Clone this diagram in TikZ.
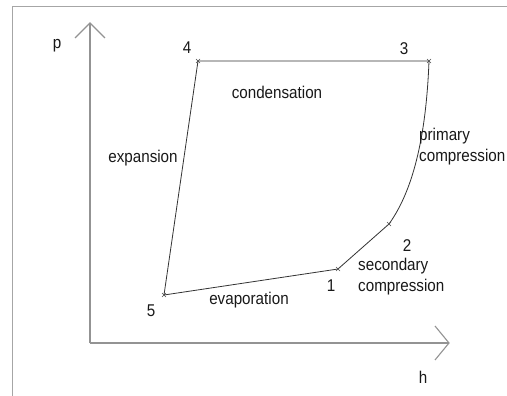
\documentclass[tikz,border=0pt]{standalone}
\usepackage{graphicx}
\usepackage{fontspec}
\setmainfont{Liberation Sans}
\newcommand\stretchtxt[1]{\scalebox{1}[1.12]{#1}}
\begin{document}
\begin{tikzpicture}[x=1pt,y=-1pt,
  axis/.style={draw=gray!85, line width=1.1pt},
  cycleline/.style={draw=black!80, line width=0.8pt},
  lbl/.style={inner sep=0pt, font=\fontsize{15.2}{17}\selectfont, text=black!90},
  mk/.style={draw=black!70, line width=0.5pt}]
\useasboundingbox (0,0) rectangle (507,396);
\fill[white] (0,0) rectangle (507,396);
\draw[draw=gray!70, line width=1pt] (12,7) rectangle (530,420);
% axes
\coordinate (O) at (90,343);
\coordinate (ytip) at (90,23);
\coordinate (xtip) at (449,343);
\coordinate (ya) at (75,38);
\coordinate (yb) at (105,38);
\coordinate (xa) at (435,326);
\coordinate (xb) at (435,360);
\draw[axis] (O) -- (ytip);
\draw[axis] (O) -- (xtip);
\draw[axis] (ya) -- (ytip) -- (yb);
\draw[axis] (xa) -- (xtip) -- (xb);
% cycle points
\coordinate (p1) at (338,269);
\coordinate (p2) at (389,224);
\coordinate (p3) at (429,61);
\coordinate (p4) at (198,61);
\coordinate (p5) at (164,295);
\draw[cycleline] (p5) -- (p4) -- (p3) .. controls (426,140) and (412,192) .. (p2) -- (p1) -- (p5);
\foreach \p in {p1,p2,p3,p4,p5}{
  \draw[mk] ([shift={(-2,-2)}]\p) -- ([shift={(2,2)}]\p);
  \draw[mk] ([shift={(-2,2)}]\p) -- ([shift={(2,-2)}]\p);
}
% labels
\node[lbl] (lp) at (57,46) {\stretchtxt{p}};
\node[lbl] (lh) at (423,377) {\stretchtxt{h}};
\node[lbl] (l4) at (187,48) {\stretchtxt{4}};
\node[lbl] (l3) at (404,49) {\stretchtxt{3}};
\node[lbl] (l2) at (407,246) {\stretchtxt{2}};
\node[lbl] (l1) at (331,286) {\stretchtxt{1}};
\node[lbl] (l5) at (151,311) {\stretchtxt{5}};
\node[lbl] (lcond) at (277,92) {\stretchtxt{condensation}};
\node[lbl] (lexp) at (143,158) {\stretchtxt{expansion}};
\node[lbl] (levap) at (249,300) {\stretchtxt{evaporation}};
\node[lbl, anchor=west] (lprim) at (419,136) {\stretchtxt{primary}};
\node[lbl, anchor=west] (lprim2) at (419,157) {\stretchtxt{compression}};
\node[lbl, anchor=west] (lsec) at (358,266) {\stretchtxt{secondary}};
\node[lbl, anchor=west] (lsec2) at (358,287) {\stretchtxt{compression}};
\end{tikzpicture}
\end{document}
